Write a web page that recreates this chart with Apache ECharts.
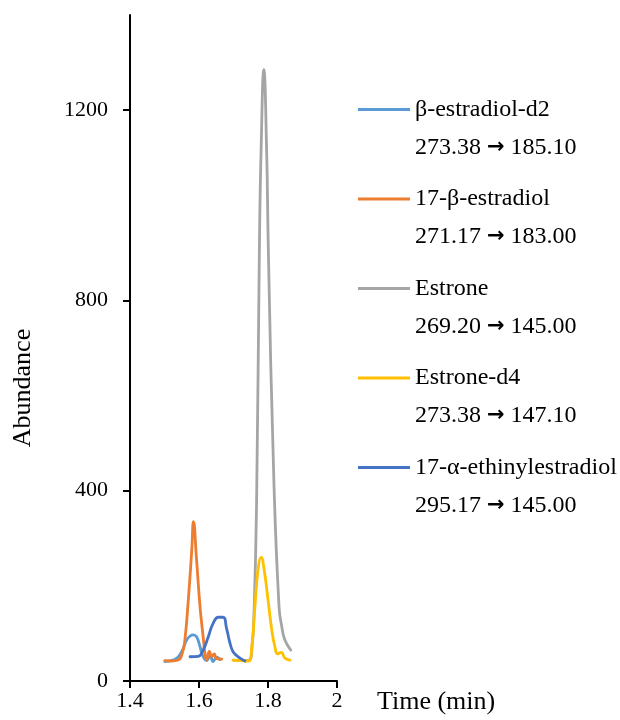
<!DOCTYPE html>
<html>
<head>
<meta charset="utf-8">
<script src="https://cdn.jsdelivr.net/npm/echarts@6/dist/echarts.min.js"></script>
<style>
  html, body { margin: 0; padding: 0; background: #fff; }
  #chart { width: 620px; height: 720px; }
</style>
</head>
<body>
<div id="chart"></div>
<script>
// Compound names, in legend order
const compounds = ['β-estradiol-d2', '17-β-estradiol', 'Estrone', 'Estrone-d4', '17-α-ethinylestradiol'];
// MRM transitions (precursor → product) shown under each name
const precursorIons = ['273.38', '271.17', '269.20', '273.38', '295.17'];
const productIons = ['185.10', '183.00', '145.00', '147.10', '145.00'];
const lineColors = ['#5B9BD5', '#ED7D31', '#A5A5A5', '#FFC000', '#4472C4'];

// Chromatogram traces: [retention time (min), abundance]
const estradiolD2 = [[1.501,41],[1.530,45],[1.550,62],[1.564,86],[1.575,95],[1.583,97],[1.593,93],[1.603,72],[1.612,51],[1.622,43],[1.632,53],[1.641,41],[1.651,50],[1.661,45]];
const estradiol17b = [[1.501,43],[1.520,42],[1.540,44],[1.552,60],[1.559,86],[1.569,170],[1.579,275],[1.584,335],[1.593,254],[1.603,156],[1.612,93],[1.617,59],[1.622,44],[1.630,62],[1.637,51],[1.644,57],[1.651,47],[1.666,46]];
const estrone = [[1.699,44],[1.720,43],[1.745,44],[1.753,65],[1.760,156],[1.767,380],[1.775,906],[1.780,1116],[1.788,1285],[1.796,1116],[1.801,906],[1.817,422],[1.832,156],[1.840,114],[1.849,86],[1.866,65]];
const estroneD4 = [[1.699,44],[1.720,43],[1.743,42],[1.753,72],[1.762,156],[1.772,240],[1.780,260],[1.789,233],[1.799,177],[1.811,107],[1.820,72],[1.828,57],[1.838,60],[1.849,48],[1.864,44]];
const ethinylestradiol = [[1.574,51],[1.598,52],[1.612,65],[1.627,93],[1.641,121],[1.656,134],[1.670,134],[1.680,110],[1.690,79],[1.697,64],[1.705,56],[1.719,48],[1.733,42]];

const traces = [estradiolD2, estradiol17b, estrone, estroneD4, ethinylestradiol];

// Axis ticks
const timeTicks = [1.4, 1.6, 1.8, 2];
const abundanceTicks = [0, 400, 800, 1200];

const FONT = '"Liberation Serif", "Times New Roman", serif';

const chart = echarts.init(document.getElementById('chart'), null, { renderer: 'canvas' });

const series = compounds.map((name, i) => ({
  name: name,
  type: 'line',
  data: traces[i],
  smooth: 0.5,
  showSymbol: false,
  symbol: 'none',
  color: lineColors[i],
  lineStyle: { width: 2.8, color: lineColors[i], cap: 'round', join: 'round' },
  emphasis: { disabled: true }
}));

chart.setOption({
  animation: false,
  backgroundColor: '#ffffff',
  grid: { left: 130, right: 283, top: 15, bottom: 39, containLabel: false, outerBoundsMode: 'none' },
  xAxis: {
    type: 'value',
    min: 1.4,
    max: 2,
    interval: 0.2,
    splitLine: { show: false },
    axisLine: { lineStyle: { color: '#000', width: 2 } },
    axisTick: { show: true, length: 7, lineStyle: { color: '#000', width: 2 }, customValues: timeTicks },
    axisLabel: { color: '#000', fontFamily: FONT, fontSize: 22, margin: 9, customValues: timeTicks,
      formatter: v => String(v) }
  },
  yAxis: {
    type: 'value',
    min: 0,
    max: 1400,
    interval: 400,
    splitLine: { show: false },
    axisLine: { show: true, lineStyle: { color: '#000', width: 2 } },
    axisTick: { show: true, length: 7, lineStyle: { color: '#000', width: 2 }, customValues: abundanceTicks },
    axisLabel: { color: '#000', fontFamily: FONT, fontSize: 22, margin: 22, customValues: abundanceTicks,
      formatter: v => String(v) }
  },
  legend: {
    orient: 'vertical',
    left: 358,
    top: 52.5,
    padding: 0,
    itemGap: -24.5,
    itemWidth: 52,
    itemHeight: 3,
    icon: 'rect',
    selectedMode: false,
    data: compounds,
    // blank first line keeps the swatch level with the compound name
    formatter: function (name) {
      const i = compounds.indexOf(name);
      return ' \n' + name + '\n' + precursorIons[i] + ' {arr|→} ' + productIons[i];
    },
    textStyle: {
      color: '#000',
      fontFamily: FONT,
      fontSize: 24,
      lineHeight: 38,
      rich: {
        arr: { fontFamily: '"DejaVu Sans", sans-serif', fontWeight: 'bold', fontSize: 21, lineHeight: 38, color: '#000' }
      }
    }
  },
  graphic: [
    {
      type: 'text',
      x: 23,
      y: 388,
      rotation: Math.PI / 2,
      style: { text: 'Abundance', fill: '#000', font: '26px ' + FONT, align: 'center', verticalAlign: 'middle' }
    },
    {
      type: 'text',
      x: 377,
      y: 702,
      style: { text: 'Time (min)', fill: '#000', font: '26px ' + FONT, align: 'left', verticalAlign: 'middle' }
    }
  ],
  series: series
});
</script>
</body>
</html>
